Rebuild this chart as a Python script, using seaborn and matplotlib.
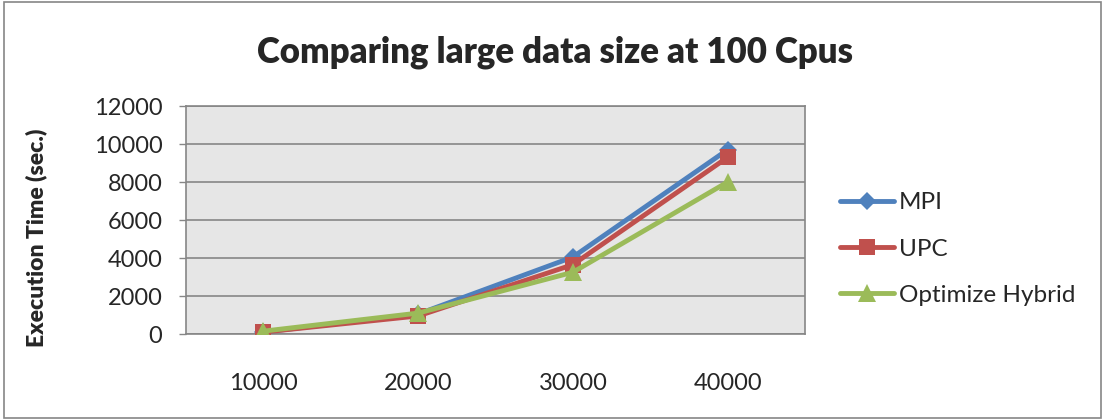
import matplotlib
matplotlib.use("Agg")
import matplotlib.pyplot as plt
from matplotlib.patches import Rectangle
import seaborn as sns
import pandas as pd

# Data: execution time (sec.) per data size on 100 CPUs
data_sizes = ["10000", "20000", "30000", "40000"]
mpi = [100, 1050, 4050, 9700]
upc = [100, 950, 3650, 9300]
hybrid = [150, 1100, 3250, 8000]
series_names = ["MPI", "UPC", "Optimize Hybrid"]
y_ticks = [0, 2000, 4000, 6000, 8000, 10000, 12000]

rows = []
for name, vals in zip(series_names, [mpi, upc, hybrid]):
    for i, (size, v) in enumerate(zip(data_sizes, vals)):
        rows.append({"pos": i, "size": size, "time": v, "series": name})
df = pd.DataFrame(rows)

sns.set_theme(style="white")
plt.rcParams["font.family"] = ["Lato", "DejaVu Sans"]

fig = plt.figure(figsize=(11.04, 4.19), dpi=100)
ax = fig.add_axes([186 / 1104, 1 - 334 / 419, (805 - 186) / 1104, (334 - 106) / 419])

palette = {"MPI": "#4F81BD", "UPC": "#C0504D", "Optimize Hybrid": "#9BBB59"}
markers = {"MPI": "D", "UPC": "s", "Optimize Hybrid": "^"}
sizes_m = {"MPI": 9, "UPC": 12, "Optimize Hybrid": 13}

ax.set_facecolor("#E6E6E6")
for name in series_names:
    sub = df[df["series"] == name]
    sns.lineplot(data=sub, x="pos", y="time", ax=ax, color=palette[name],
                 marker=markers[name], markersize=sizes_m[name],
                 markeredgewidth=0, linewidth=3.5, label=name, zorder=3)

ax.set_xlim(-0.5, 3.5)
ax.set_ylim(0, 12000)
ax.set_yticks(y_ticks)
ax.set_yticklabels([str(t) for t in y_ticks], fontsize=17)
ax.set_xticks(range(len(data_sizes)))
ax.set_xticklabels(data_sizes, fontsize=17)
ax.tick_params(axis="x", length=0, pad=28)
ax.tick_params(axis="y", length=5, width=1, color="#868686", pad=12, left=True)
ax.grid(axis="y", color="#868686", linewidth=1.2, zorder=1)
ax.set_axisbelow(True)
for s in ax.spines.values():
    s.set_color("#868686")
    s.set_linewidth(1.2)

ax.set_xlabel("")
ax.set_ylabel("Execution Time (sec.)", fontsize=16.5, fontweight="heavy")
ax.yaxis.set_label_coords((47 - 186) / 619, (334 - 238) / 228)

fig.text(0.503, 0.876, "Comparing large data size at 100 Cpus", ha="center",
         va="center", fontsize=25, fontweight="heavy")

leg = ax.legend(loc="center left", bbox_to_anchor=(1.022, (334 - 249) / 228),
                frameon=False, fontsize=17.5, handlelength=2.2,
                labelspacing=1.04, handletextpad=0.2)
for h in leg.get_lines():
    h.set_linewidth(3.5)

fig.patches.append(Rectangle((4 / 1104, 1 / 419), 1097 / 1104, 416 / 419,
                             transform=fig.transFigure, fill=False,
                             edgecolor="#868686", linewidth=1.2))

fig.savefig("out.png", dpi=100)
